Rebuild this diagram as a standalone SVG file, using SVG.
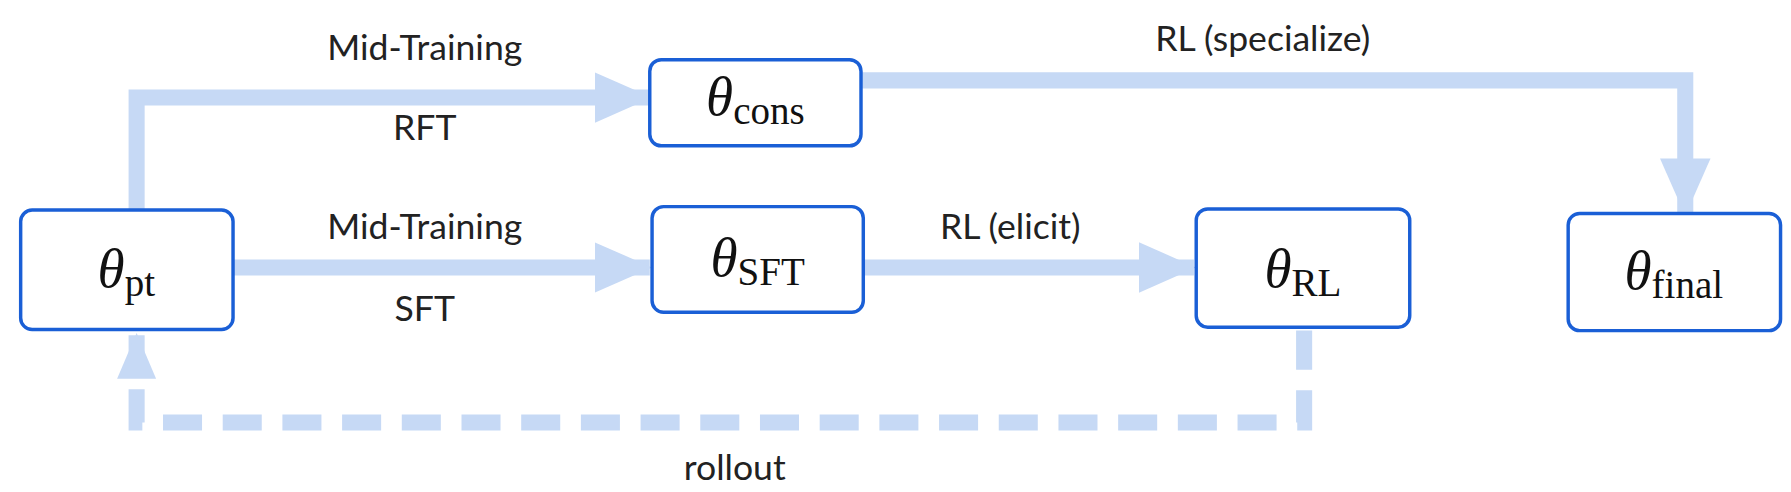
<svg xmlns="http://www.w3.org/2000/svg" width="1791" height="492" viewBox="0 0 1791 492">
<style>
.node rect{fill:#fff;stroke:#1a5fd6;stroke-width:3}
.th{font-family:"Liberation Serif",serif;font-style:italic;font-size:48px;fill:#111;text-anchor:middle}
.sub{font-family:"Liberation Serif",serif;font-style:normal;font-size:34px}
.lbl{font-family:Lato,"Open Sans",sans-serif;font-size:31px;fill:#222;text-anchor:middle}
.c{fill:none;stroke:#c6d9f5;stroke-width:14}
.d{stroke-dasharray:34 18}
</style>
<defs>
<marker id="ah" markerUnits="userSpaceOnUse" markerWidth="50" markerHeight="44" refX="48" refY="22" orient="auto"><path d="M0,0 L50,22 L0,44 Z" fill="#c6d9f5"/></marker>
<marker id="ah2" markerUnits="userSpaceOnUse" markerWidth="40" markerHeight="34" refX="38" refY="17" orient="auto"><path d="M0,0 L40,17 L0,34 Z" fill="#c6d9f5"/></marker>
</defs>
<g transform="scale(1.148)">
<g id="connectors">
<path class="c" d="M119,183 V85 H566" marker-end="url(#ah)"/>
<path class="c" d="M203,233 H566" marker-end="url(#ah)"/>
<path class="c" d="M752,233 H1040" marker-end="url(#ah)"/>
<path class="c" d="M750,70 H1468 V186" marker-end="url(#ah)"/>
<path class="c d" d="M1136,288 V368 H119 V292" marker-end="url(#ah2)"/>
</g>
<g id="labels">
<text class="lbl" x="370" y="52">Mid-Training</text>
<text class="lbl" x="370" y="122">RFT</text>
<text class="lbl" x="370" y="208">Mid-Training</text>
<text class="lbl" x="370" y="280">SFT</text>
<text class="lbl" x="880" y="208">RL (elicit)</text>
<text class="lbl" x="1100" y="44">RL (specialize)</text>
<text class="lbl" x="640" y="418">rollout</text>
</g>
<g id="n-pt" class="node"><rect x="18" y="183" width="185" height="104" rx="10"/><text class="th" x="110" y="250">θ<tspan class="sub" dy="8">pt</tspan></text></g>
<g id="n-cons" class="node"><rect x="566" y="52" width="184" height="75" rx="10"/><text class="th" x="658" y="100">θ<tspan class="sub" dy="8">cons</tspan></text></g>
<g id="n-sft" class="node"><rect x="568" y="180" width="184" height="92" rx="10"/><text class="th" x="660" y="240">θ<tspan class="sub" dy="8">SFT</tspan></text></g>
<g id="n-rl" class="node"><rect x="1042" y="182" width="186" height="103" rx="10"/><text class="th" x="1135" y="250">θ<tspan class="sub" dy="8">RL</tspan></text></g>
<g id="n-final" class="node"><rect x="1366" y="186" width="185" height="102" rx="10"/><text class="th" x="1458" y="252">θ<tspan class="sub" dy="8">final</tspan></text></g>
</g>
</svg>
